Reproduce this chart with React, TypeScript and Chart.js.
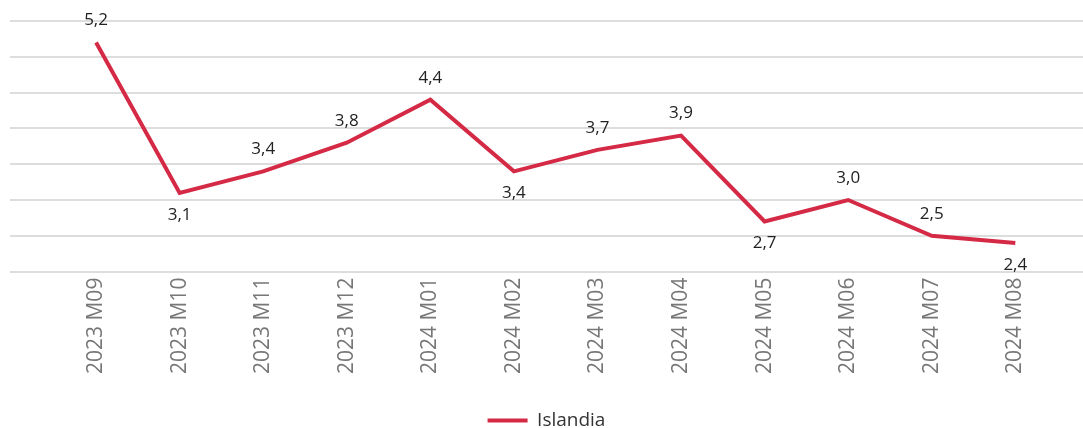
import React, { useEffect, useRef } from "react";
import { Chart, registerables } from "chart.js";

Chart.register(...registerables);

const categories = [
  "2023 M09", "2023 M10", "2023 M11", "2023 M12", "2024 M01", "2024 M02",
  "2024 M03", "2024 M04", "2024 M05", "2024 M06", "2024 M07", "2024 M08",
];
const islandia = [5.2, 3.1, 3.4, 3.8, 4.4, 3.4, 3.7, 3.9, 2.7, 3.0, 2.5, 2.4];
const seriesName = "Islandia";
const lineColor = "#d52a45";

const dataLabelPlugin = {
  id: "dataLabels",
  afterDatasetsDraw(chart: any) {
    const ctx = chart.ctx;
    const meta = chart.getDatasetMeta(0);
    const vals = chart.data.datasets[0].data.map((d: any) => d.y);
    ctx.save();
    ctx.font = '17px "Open Sans"';
    ctx.fillStyle = "#222";
    ctx.textAlign = "center";
    ctx.textBaseline = "middle";
    meta.data.forEach((pt: any, i: number) => {
      const v = vals[i];
      const prev = i > 0 ? vals[i - 1] : Infinity;
      const next = i < vals.length - 1 ? vals[i + 1] : Infinity;
      const below = v < prev && v < next;
      const txt = v.toFixed(1).replace(".", ",");
      ctx.fillText(txt, pt.x, below ? pt.y + 22 : pt.y - 22);
    });
    ctx.restore();
  },
};

export default function App() {
  const ref = useRef<HTMLCanvasElement>(null);
  useEffect(() => {
    document.body.style.margin = "0";
    const chart = new Chart(ref.current as HTMLCanvasElement, {
      type: "line",
      data: {
        datasets: [
          {
            label: seriesName,
            data: islandia.map((v, i) => ({ x: i, y: v })),
            borderColor: lineColor,
            backgroundColor: lineColor,
            borderWidth: 4,
            pointRadius: 0,
            tension: 0,
          },
        ],
      },
      options: {
        animation: false,
        responsive: true,
        maintainAspectRatio: false,
        layout: { padding: { left: 10, right: 0, top: 21, bottom: -12 } },
        plugins: {
          tooltip: { enabled: false },
          legend: {
            position: "bottom",
            labels: {
              usePointStyle: true,
              pointStyle: "line",
              pointStyleWidth: 40,
              font: { family: "Open Sans", size: 19 },
              color: "#333",
              padding: 10,
            },
          },
        },
        scales: {
          x: {
            type: "linear",
            min: -1.03,
            max: 11.81,
            afterBuildTicks: (axis: any) => {
              axis.ticks = categories.map((_, i) => ({ value: i }));
            },
            afterFit: (axis: any) => {
              axis.height += 21;
            },
            grid: { display: false, drawTicks: false },
            border: { display: false },
            ticks: {
              autoSkip: false,
              maxRotation: 90,
              minRotation: 90,
              padding: 6,
              color: "#777",
              font: { family: "Open Sans", size: 21 },
              callback: (v: any) => categories[Math.round(Number(v))] ?? "",
            },
          },
          y: {
            min: 2,
            max: 5.5,
            ticks: { display: false, stepSize: 0.5 },
            grid: { color: "#dddddd", lineWidth: 2, drawTicks: false },
            border: { display: false },
          },
        },
      },
      plugins: [dataLabelPlugin],
    } as any);
    return () => chart.destroy();
  }, []);
  return (
    <div style={{ position: "relative", width: 1083, height: 428 }}>
      <canvas ref={ref} />
    </div>
  );
}
